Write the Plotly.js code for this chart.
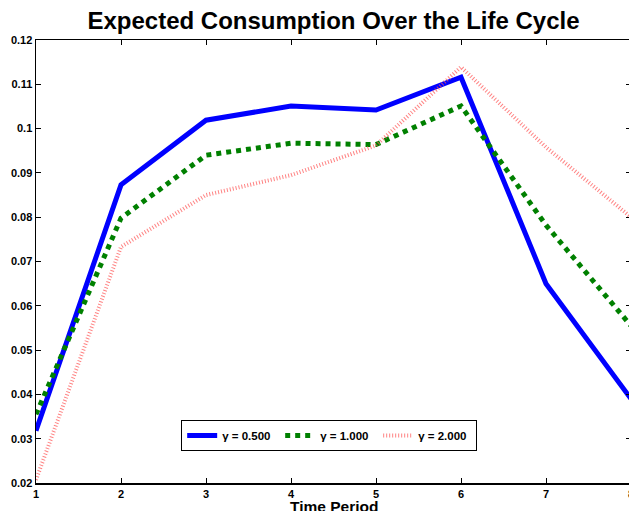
<!DOCTYPE html>
<html><head><meta charset="utf-8">
<script src="https://cdn.plot.ly/plotly-3.0.1.min.js"></script>
<style>html,body{margin:0;padding:0;overflow:hidden;background:#fff}</style>
</head><body>
<div id="chart" style="width:640px;height:511px"></div>
<script>
const periods = [1, 2, 3, 4, 5, 6, 7, 8];
const gamma05 = [0.0318, 0.0873, 0.1019, 0.1051, 0.1042, 0.1116, 0.0650, 0.0390];
const gamma10 = [0.0355, 0.0798, 0.0940, 0.0967, 0.0964, 0.1051, 0.0782, 0.0555];
const gamma20 = [0.0207, 0.0733, 0.0850, 0.0895, 0.0962, 0.1139, 0.0958, 0.0800];
const seriesNames = ['\u03b3 = 0.500', '\u03b3 = 1.000', '\u03b3 = 2.000'];
const yTickVals = [0.02, 0.03, 0.04, 0.05, 0.06, 0.07, 0.08, 0.09, 0.10, 0.11, 0.12];
const yTickText = ['0.02','0.03','0.04','0.05','0.06','0.07','0.08','0.09','0.1','0.11','0.12'];
const xTickVals = [1, 2, 3, 4, 5, 6, 7, 8];

const fam = 'Liberation Sans, Arial, sans-serif';
const traces = [
  {x: periods, y: gamma05, name: seriesNames[0], mode: 'lines',
   line: {color: '#0000ff', width: 5}},
  {x: periods, y: gamma10, name: seriesNames[1], mode: 'lines',
   line: {color: '#008000', width: 5, dash: '5px,5px'}},
  {x: periods, y: gamma20, name: seriesNames[2], mode: 'lines',
   line: {color: 'rgba(255,90,90,0.75)', width: 4, dash: '1px,2px'}}
];
const axisCommon = {
  showgrid: false, zeroline: false, showline: true, linecolor: '#000', linewidth: 1.5,
  mirror: 'ticks', ticks: 'inside', ticklen: 5, tickwidth: 1, tickcolor: '#000',
  tickfont: {family: fam, size: 11, color: '#000', weight: 'bold'}
};
const layout = {
  width: 640, height: 511,
  margin: {l: 36, r: 9, t: 40, b: 28},
  paper_bgcolor: '#fff', plot_bgcolor: '#fff',
  font: {family: fam, color: '#000'},
  title: {text: 'Expected Consumption Over the Life Cycle',
    font: {family: fam, size: 24, color: '#000', weight: 'bold'},
    x: 0.5, xref: 'paper', y: 1 - 21/511, yref: 'container', yanchor: 'middle'},
  xaxis: Object.assign({}, axisCommon, {range: [1, 8], tickvals: xTickVals}),
  yaxis: Object.assign({}, axisCommon, {range: [0.02, 0.12], tickvals: yTickVals, ticktext: yTickText}),
  annotations: [{text: 'Time Period', xref: 'paper', yref: 'paper', x: 0.5, y: -0.052,
    xanchor: 'center', yanchor: 'middle', showarrow: false,
    font: {family: fam, size: 15.5, color: '#000', weight: 'bold'}}],
  showlegend: true,
  legend: {orientation: 'h', x: 0.244, xanchor: 'left', y: 0.142, yanchor: 'top',
    bgcolor: '#fff', bordercolor: '#000', borderwidth: 1,
    font: {family: fam, size: 11.5, color: '#000', weight: 'bold'},
    itemwidth: 30, entrywidth: 53, tracegroupgap: 0}
};
Plotly.newPlot('chart', traces, layout, {displayModeBar: false, staticPlot: true});
</script>
</body></html>
